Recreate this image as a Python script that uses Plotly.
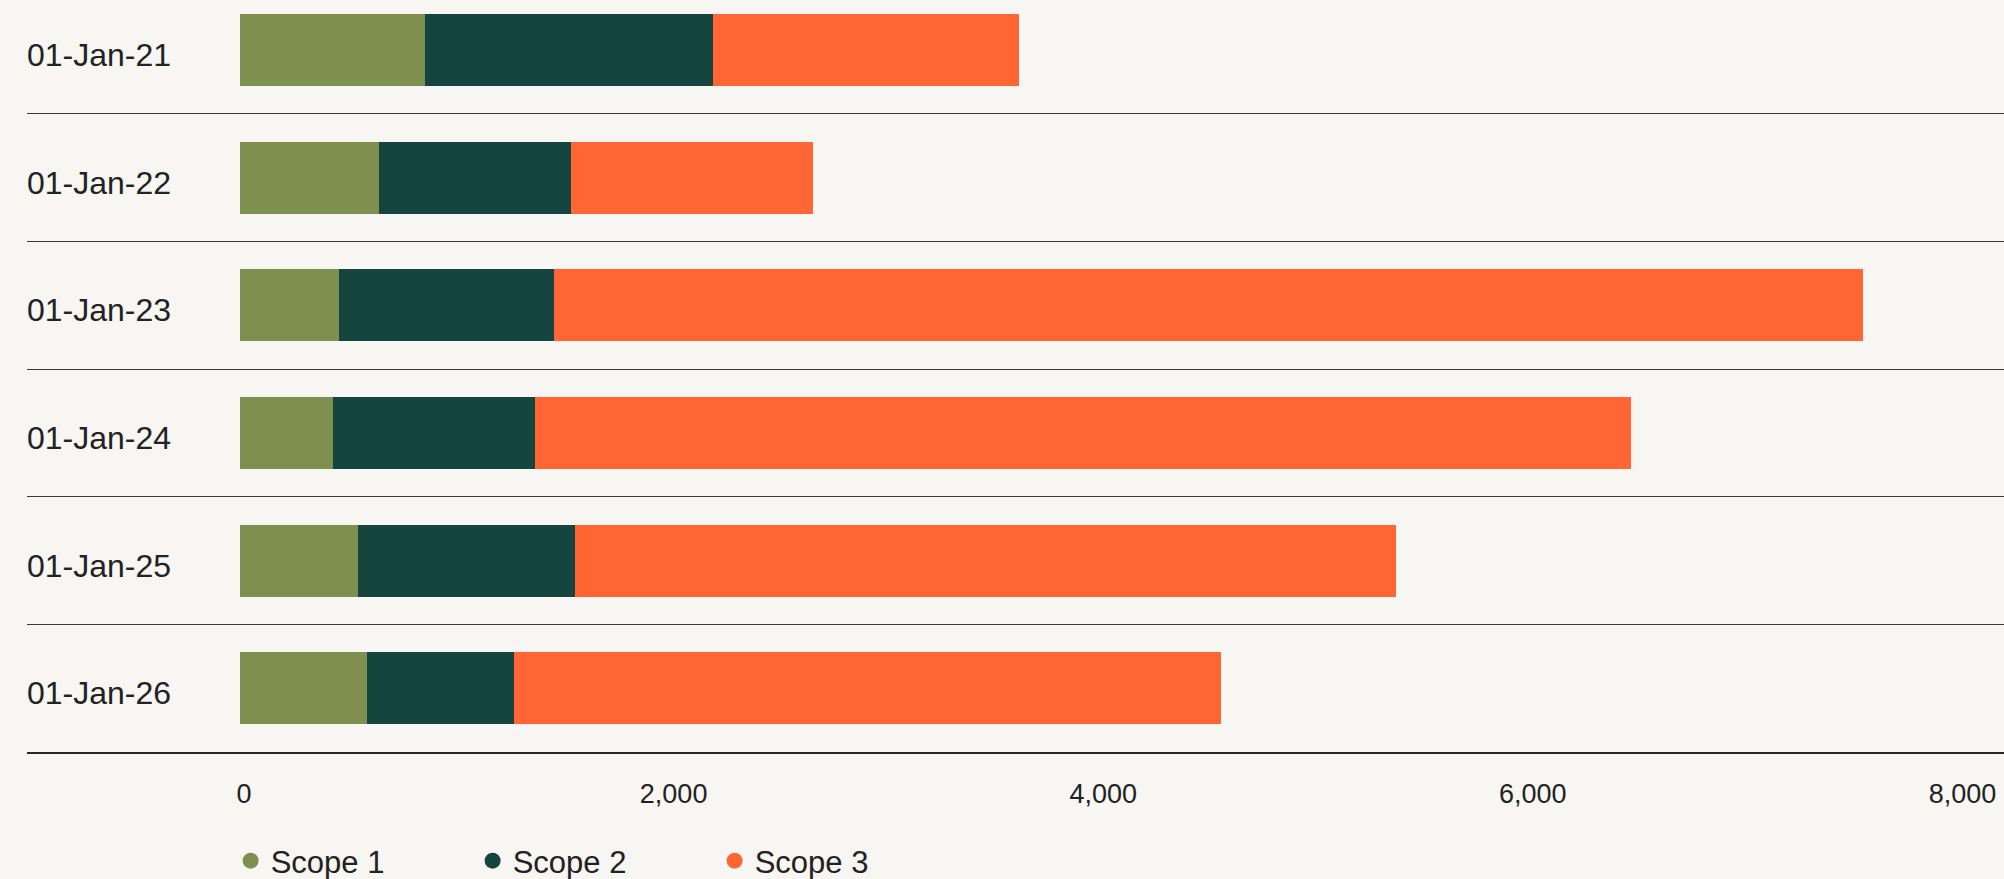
import plotly.graph_objects as go

# Emissions by scope for each reporting date
dates = ["01-Jan-21", "01-Jan-22", "01-Jan-23", "01-Jan-24", "01-Jan-25", "01-Jan-26"]
scope1 = [861, 647, 460, 433, 549, 591]
scope2 = [1340, 894, 1002, 939, 1011, 684]
scope3 = [1426, 1127, 6094, 5104, 3822, 3292]

series_names = ["Scope 1", "Scope 2", "Scope 3"]
series_colors = ["#7f8f4f", "#15453f", "#ff6633"]
x_tickvals = [0, 2000, 4000, 6000, 8000]

BG = "#f7f6f2"
TEXT = "#222222"
FONT = "Liberation Sans, Arial, sans-serif"

fig = go.Figure()
for name, vals, col in zip(series_names, [scope1, scope2, scope3], series_colors):
    fig.add_trace(go.Bar(
        y=dates, x=vals, orientation="h", name=name,
        marker=dict(color=col, line=dict(width=0)),
        showlegend=False,
    ))
    # round legend markers
    fig.add_trace(go.Scatter(
        x=[None], y=[None], mode="markers", name=name,
        marker=dict(color=col, size=16, symbol="circle"),
        showlegend=True,
    ))

fig.update_layout(
    width=2004, height=879,
    paper_bgcolor=BG, plot_bgcolor=BG,
    barmode="stack", bargap=0.436,
    margin=dict(l=27, r=0, t=0, b=127, autoexpand=False),
    font=dict(family=FONT, color=TEXT),
    showlegend=True,
    legend=dict(
        orientation="h", x=0.103, xanchor="left", y=-0.145, yanchor="middle",
        font=dict(size=31, color=TEXT), bgcolor="rgba(0,0,0,0)",
        entrywidth=197, entrywidthmode="pixels", itemsizing="trace",
        traceorder="normal",
    ),
    xaxis=dict(
        range=[-991.6, 8212], tickvals=x_tickvals, tickformat=",d",
        showgrid=False, zeroline=False, ticks="",
        showline=True, linecolor="#2a2a28", linewidth=1.5,
        tickfont=dict(size=27, color=TEXT), ticklabelstandoff=17,
        ticklabelshift=4,
    ),
    yaxis=dict(
        type="category", categoryorder="array", categoryarray=dates,
        range=[5.5, -0.392], tickson="boundaries",
        showgrid=True, gridcolor="#3a3a37", gridwidth=1.4,
        ticks="", showline=False, zeroline=False,
        ticklabelposition="inside", ticklabelstandoff=-3, ticklabelshift=-5,
        tickfont=dict(size=32, color=TEXT),
    ),
)

fig.write_html("out.html")
